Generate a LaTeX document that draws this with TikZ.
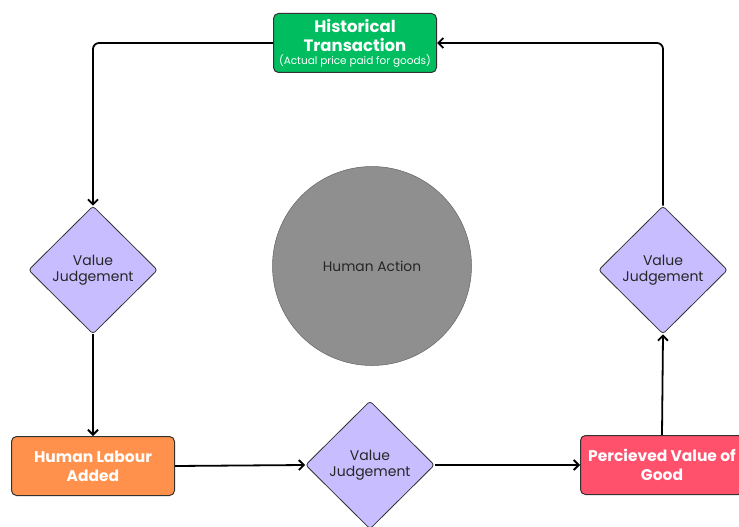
\documentclass[tikz,border=0pt]{standalone}
\usepackage{fontspec}
\setmainfont{Poppins}
\usetikzlibrary{shapes.geometric,arrows.meta}
\definecolor{hgreen}{RGB}{0,190,95}
\definecolor{horange}{RGB}{255,145,77}
\definecolor{hred}{RGB}{255,80,108}
\definecolor{hlav}{RGB}{200,190,255}
\definecolor{hgray}{RGB}{143,143,143}
\definecolor{hedge}{RGB}{50,50,50}
\tikzset{
  boxnode/.style={draw=hedge, line width=1pt, rounded corners=5pt, minimum width=163pt, minimum height=59pt, inner sep=1pt, align=center, text=white, font=\fontsize{15.5}{19}\selectfont\bfseries},
  decide/.style={diamond, draw=hedge, line width=0.8pt, fill=hlav, rounded corners=3pt, minimum width=129pt, minimum height=128pt, inner sep=0pt, align=center, font=\fontsize{14}{16}\selectfont, text=black!85},
  conn/.style={line width=1.8pt, -{Straight Barb[length=5pt,width=10pt,line width=1.8pt]}, rounded corners=6pt}
}
\begin{document}
\begin{tikzpicture}[x=1pt,y=-1pt]
\useasboundingbox (0,0) rectangle (739,527);
\node[boxnode, fill=hgreen] (hist) at (355,43) {{\fontsize{16.5}{19}\selectfont Historical}\\{\fontsize{16.5}{19}\selectfont Transaction}\\[-6pt]{\fontsize{10.5}{12}\selectfont\mdseries (Actual price paid for goods)}};
\node[decide] (vjl) at (93,270) {Value\\Judgement};
\node[decide] (vjr) at (663,270) {Value\\Judgement};
\node[decide] (vjb) at (370,465) {Value\\Judgement};
\node[circle, fill=hgray, draw=hgray!70!black, line width=0.5pt, minimum size=199pt, inner sep=0pt, font=\fontsize{13.8}{15}\selectfont, text=black!85] (act) at (372,266) {Human Action};
\node[boxnode, fill=horange] (lab) at (93,466) {Human Labour\\Added};
\node[boxnode, fill=hred] (perc) at (662,465) {Percieved Value of\\Good};
\draw[conn] (hist.west) -| (vjl.north);
\draw[conn] (vjl.south) -- (lab.north);
\draw[conn] (lab.east) -- (vjb.west);
\draw[conn] (vjb.east) -- (perc.west);
\draw[conn] (perc.north) -- (vjr.south);
\draw[conn] (vjr.north) |- (hist.east);
\end{tikzpicture}
\end{document}
